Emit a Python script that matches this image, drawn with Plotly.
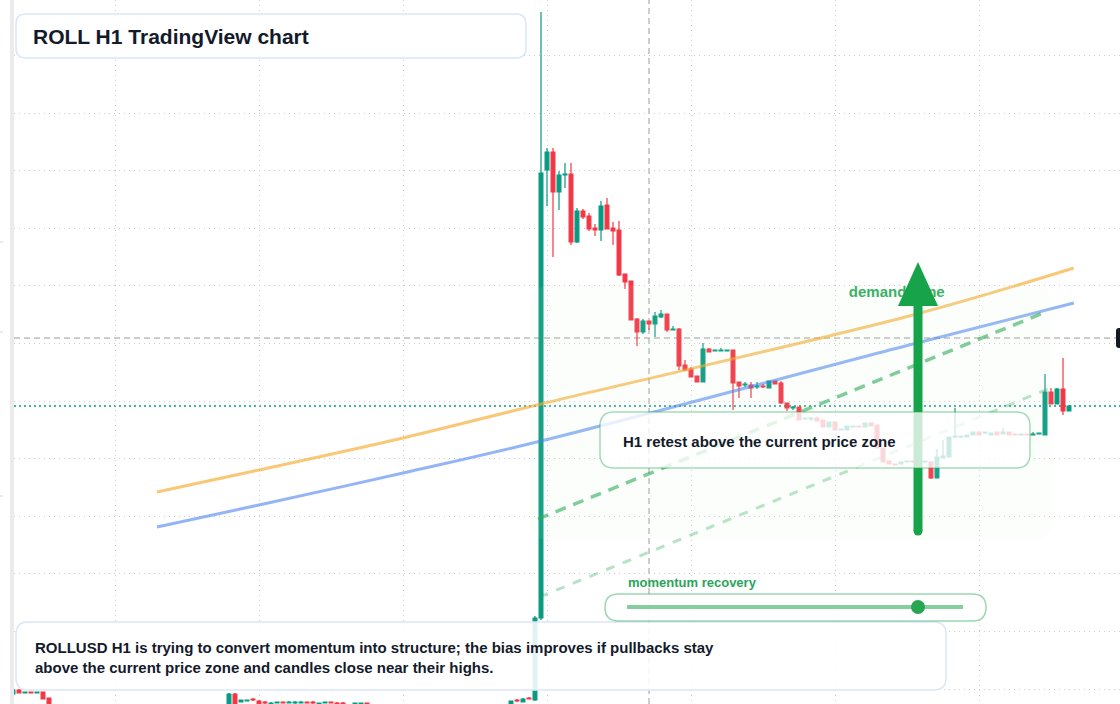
import plotly.graph_objects as go

W, H = 1120, 704

# ---------------- data (hourly candles, index = bar number) ----------------
candle_idx = [0, 1, 2, 3, 4, 5, 6,
              36, 37, 38, 39, 40, 41, 42, 43, 44, 45, 46, 47, 48, 49, 50, 51, 52, 53, 54, 55, 57, 58, 59,
              83, 84, 85, 86, 87, 88,
              89, 90, 91, 92, 93, 94, 95, 96, 97, 98, 99, 100, 101, 102, 103, 104, 105, 106, 107, 108,
              109, 110, 111, 112, 113, 114, 115, 116, 117, 118, 119, 120, 121, 122, 123, 124, 125, 126,
              127, 128, 129, 130, 131, 132, 133, 134, 135, 136, 137, 138, 139, 140, 141, 142, 143, 144,
              145, 146, 147, 148, 149, 150, 151, 152, 153, 154, 155, 156, 157, 158, 159, 160, 161, 162,
              163, 164, 165, 166, 167, 168, 169, 170, 171, 172, 173, 174, 175, 176]

opens = [0.0810, 0.0814, 0.0811, 0.0812, 0.0811, 0.0812, 0.0806,
         0.0780, 0.0810, 0.0802, 0.0803, 0.0805, 0.0803, 0.0802, 0.0800, 0.0801, 0.0802, 0.0801, 0.0801,
         0.0801, 0.0802, 0.0802, 0.0799, 0.0801, 0.0802, 0.0801, 0.0801, 0.0800, 0.0800, 0.0801,
         0.0798, 0.0804, 0.0802, 0.0806, 0.0804, 0.0886,
         0.1334, 0.1352, 0.1312, 0.1329, 0.1330, 0.1262, 0.1293, 0.1288, 0.1276, 0.1274, 0.1299, 0.1276,
         0.1274, 0.1230, 0.1223, 0.1185, 0.1172, 0.1183, 0.1180, 0.1187,
         0.1190, 0.1174, 0.1175, 0.1139, 0.1135, 0.1128, 0.1122, 0.1155, 0.1153, 0.1153, 0.1153, 0.1154,
         0.1122, 0.1119, 0.1119, 0.1117, 0.1118, 0.1116,
         0.1123, 0.1121, 0.1101, 0.1096, 0.1097, 0.1085, 0.1085, 0.1086, 0.1084, 0.1077, 0.1082, 0.1074,
         0.1074, 0.1077, 0.1078, 0.1077, 0.1081, 0.1079,
         0.1056, 0.1043, 0.1040, 0.1040, 0.1042, 0.1043, 0.1042, 0.1042, 0.1042, 0.1026, 0.1046, 0.1047,
         0.1067, 0.1067, 0.1067, 0.1069, 0.1072, 0.1071,
         0.1069, 0.1072, 0.1070, 0.1072, 0.1070, 0.1069, 0.1070, 0.1069, 0.1070, 0.1069, 0.1112, 0.1100,
         0.1115, 0.1093]

highs = [0.0815, 0.0815, 0.0812, 0.0812, 0.0812, 0.0812, 0.0806,
         0.0811, 0.0811, 0.0804, 0.0804, 0.0806, 0.0804, 0.0803, 0.0802, 0.0802, 0.0802, 0.0803, 0.0803,
         0.0803, 0.0802, 0.0803, 0.0801, 0.0802, 0.0802, 0.0802, 0.0802, 0.0801, 0.0801, 0.0801,
         0.0803, 0.0805, 0.0806, 0.0807, 0.0888, 0.1492,
         0.1356, 0.1356, 0.1333, 0.1341, 0.1341, 0.1296, 0.1295, 0.1291, 0.1280, 0.1303, 0.1306, 0.1282,
         0.1283, 0.1230, 0.1223, 0.1186, 0.1185, 0.1183, 0.1192, 0.1194,
         0.1190, 0.1178, 0.1176, 0.1144, 0.1137, 0.1128, 0.1161, 0.1156, 0.1154, 0.1156, 0.1154, 0.1154,
         0.1122, 0.1122, 0.1122, 0.1122, 0.1120, 0.1123,
         0.1123, 0.1123, 0.1101, 0.1098, 0.1097, 0.1086, 0.1087, 0.1087, 0.1084, 0.1082, 0.1082, 0.1075,
         0.1078, 0.1078, 0.1078, 0.1081, 0.1081, 0.1079,
         0.1056, 0.1043, 0.1040, 0.1042, 0.1043, 0.1043, 0.1043, 0.1043, 0.1042, 0.1055, 0.1064, 0.1067,
         0.1096, 0.1068, 0.1069, 0.1072, 0.1072, 0.1072,
         0.1071, 0.1072, 0.1076, 0.1072, 0.1070, 0.1070, 0.1070, 0.1072, 0.1071, 0.1130, 0.1116, 0.1116,
         0.1146, 0.1099]

lows = [0.0809, 0.0811, 0.0811, 0.0811, 0.0811, 0.0805, 0.0790,
        0.0778, 0.0780, 0.0802, 0.0803, 0.0803, 0.0797, 0.0799, 0.0799, 0.0801, 0.0801, 0.0801, 0.0800,
        0.0801, 0.0801, 0.0800, 0.0799, 0.0801, 0.0801, 0.0799, 0.0799, 0.0800, 0.0800, 0.0800,
        0.0797, 0.0802, 0.0802, 0.0805, 0.0803, 0.0884,
        0.1298, 0.1247, 0.1294, 0.1316, 0.1259, 0.1261, 0.1285, 0.1273, 0.1268, 0.1263, 0.1275, 0.1259,
        0.1228, 0.1215, 0.1184, 0.1158, 0.1170, 0.1174, 0.1167, 0.1186,
        0.1172, 0.1174, 0.1134, 0.1133, 0.1127, 0.1122, 0.1122, 0.1152, 0.1153, 0.1153, 0.1153, 0.1094,
        0.1106, 0.1117, 0.1106, 0.1115, 0.1116, 0.1116,
        0.1120, 0.1100, 0.1093, 0.1094, 0.1084, 0.1085, 0.1083, 0.1083, 0.1077, 0.1077, 0.1074, 0.1074,
        0.1074, 0.1077, 0.1077, 0.1077, 0.1078, 0.1056,
        0.1042, 0.1040, 0.1039, 0.1040, 0.1042, 0.1042, 0.1042, 0.1042, 0.1025, 0.1026, 0.1046, 0.1047,
        0.1066, 0.1066, 0.1067, 0.1069, 0.1069, 0.1070,
        0.1069, 0.1069, 0.1070, 0.1069, 0.1069, 0.1069, 0.1069, 0.1069, 0.1070, 0.1069, 0.1100, 0.1100,
        0.1089, 0.1093]

closes = [0.0814, 0.0811, 0.0812, 0.0811, 0.0812, 0.0805, 0.0792,
          0.0810, 0.0785, 0.0804, 0.0804, 0.0804, 0.0798, 0.0801, 0.0801, 0.0802, 0.0801, 0.0802, 0.0802,
          0.0802, 0.0801, 0.0801, 0.0801, 0.0802, 0.0801, 0.0800, 0.0800, 0.0801, 0.0801, 0.0800,
          0.0803, 0.0803, 0.0805, 0.0805, 0.0886, 0.1331,
          0.1352, 0.1312, 0.1329, 0.1330, 0.1262, 0.1293, 0.1287, 0.1275, 0.1274, 0.1298, 0.1275, 0.1273,
          0.1229, 0.1222, 0.1184, 0.1172, 0.1183, 0.1180, 0.1188, 0.1190,
          0.1174, 0.1175, 0.1138, 0.1134, 0.1127, 0.1122, 0.1155, 0.1152, 0.1154, 0.1154, 0.1154, 0.1121,
          0.1118, 0.1120, 0.1116, 0.1118, 0.1117, 0.1123,
          0.1120, 0.1101, 0.1096, 0.1097, 0.1084, 0.1086, 0.1086, 0.1083, 0.1077, 0.1082, 0.1074, 0.1075,
          0.1078, 0.1078, 0.1077, 0.1081, 0.1078, 0.1056,
          0.1042, 0.1040, 0.1039, 0.1042, 0.1043, 0.1042, 0.1043, 0.1043, 0.1026, 0.1047, 0.1048, 0.1067,
          0.1068, 0.1068, 0.1069, 0.1072, 0.1069, 0.1072,
          0.1071, 0.1069, 0.1072, 0.1069, 0.1069, 0.1070, 0.1069, 0.1070, 0.1071, 0.1112, 0.1100, 0.1115,
          0.1093, 0.1098]

# moving-average style overlays
ma_fast_x = [24, 41, 65, 88, 150, 176.8]
ma_fast_y = [0.1012, 0.1034, 0.1066, 0.1100, 0.1189, 0.1236]
ma_slow_x = [24, 41, 65, 88, 150, 176.8]
ma_slow_y = [0.0977, 0.0999, 0.1031, 0.1063, 0.1160, 0.1201]
# trend channel (dashed)
trend_x = [87.5, 172.5]
trend_y = [0.0985, 0.1193]
support_x = [87.75, 172.5]
support_y = [0.0907, 0.1115]

last_price = closes[-1]
cross_price = 0.1166
cross_idx = 106

UP, DOWN = "#089981", "#f23645"
TXT = "#131a2b"
GREEN = "#2aa55a"
FONT = "Liberation Sans, Arial, sans-serif"


def P(x, y):
    return f"{x / W:.5f},{1 - y / H:.5f}"


def rrect(x0, y0, x1, y1, r):
    return (f"M{P(x0 + r, y0)} L{P(x1 - r, y0)} Q{P(x1, y0)} {P(x1, y0 + r)} "
            f"L{P(x1, y1 - r)} Q{P(x1, y1)} {P(x1 - r, y1)} L{P(x0 + r, y1)} "
            f"Q{P(x0, y1)} {P(x0, y1 - r)} L{P(x0, y0 + r)} Q{P(x0, y0)} {P(x0 + r, y0)} Z")


fig = go.Figure()
fig.add_trace(go.Candlestick(
    x=candle_idx, open=opens, high=highs, low=lows, close=closes,
    increasing=dict(line=dict(color=UP, width=1.2), fillcolor=UP),
    decreasing=dict(line=dict(color=DOWN, width=1.2), fillcolor=DOWN),
    whiskerwidth=0, hoverinfo="skip", showlegend=False))

fig.add_trace(go.Scatter(x=ma_fast_x, y=ma_fast_y, mode="lines", line_shape="spline",
                         line=dict(color="rgba(245,166,35,0.62)", width=3), hoverinfo="skip"))
fig.add_trace(go.Scatter(x=ma_slow_x, y=ma_slow_y, mode="lines", line_shape="spline",
                         line=dict(color="rgba(59,120,240,0.55)", width=3), hoverinfo="skip"))
fig.add_trace(go.Scatter(x=trend_x, y=trend_y, mode="lines",
                         line=dict(color="rgba(34,166,80,0.6)", width=3.5, dash="11px,8px"),
                         hoverinfo="skip"))
fig.add_trace(go.Scatter(x=support_x, y=support_y, mode="lines",
                         line=dict(color="rgba(34,166,80,0.32)", width=3, dash="9px,9px"),
                         hoverinfo="skip"))
fig.add_trace(go.Scatter(x=[139.3], y=[0.1211], mode="text", text=["<b>demand zone</b>"],
                         textposition="middle right",
                         textfont=dict(family=FONT, size=15, color="#2fab5f"), hoverinfo="skip"))

shapes = [
    # crosshair + last price line
    dict(type="line", xref="x", yref="paper", x0=cross_idx, x1=cross_idx, y0=0, y1=1, layer="below",
         line=dict(color="#9a9a9a", width=1, dash="6px,4px")),
    dict(type="line", xref="paper", yref="y", x0=14 / W, x1=1116 / W, y0=cross_price, y1=cross_price,
         layer="below", line=dict(color="#9a9a9a", width=1, dash="6px,4px")),
    dict(type="line", xref="paper", yref="y", x0=14 / W, x1=1, y0=last_price, y1=last_price,
         layer="below", line=dict(color=UP, width=1.5, dash="2px,3px")),
    # left strip
    dict(type="rect", xref="paper", yref="paper", x0=10 / W, x1=14 / W, y0=0, y1=1,
         fillcolor="#ebebeb", line=dict(width=0), layer="above"),
    # demand zone
    dict(type="path", xref="paper", yref="paper", path=rrect(530, 286, 1052, 540, 20),
         fillcolor="rgba(200,240,210,0.08)", line=dict(width=0), layer="above"),
    # arrow
    dict(type="line", xref="paper", yref="paper", x0=918 / W, x1=918 / W, y0=1 - 531 / H, y1=1 - 300 / H,
         line=dict(color="#16a34a", width=9), layer="above"),
    dict(type="circle", xref="paper", yref="paper", x0=913.5 / W, x1=922.5 / W, y0=1 - 535.5 / H,
         y1=1 - 526.5 / H, fillcolor="#16a34a", line=dict(width=0), layer="above"),
    dict(type="path", xref="paper", yref="paper",
         path=f"M{P(898, 306)} L{P(938, 306)} L{P(918, 262)} Z",
         fillcolor="#16a34a", line=dict(width=0), layer="above"),
    # middle box
    dict(type="path", xref="paper", yref="paper", path=rrect(600, 412, 1030, 468, 14),
         fillcolor="rgba(255,255,255,0.78)", line=dict(color="rgba(34,166,80,0.4)", width=1.5),
         layer="above"),
    # bottom box
    dict(type="path", xref="paper", yref="paper", path=rrect(16, 622, 946, 690, 12),
         fillcolor="rgba(255,255,255,0.88)", line=dict(color="#dbe6f7", width=1.5), layer="above"),
    # title box
    dict(type="path", xref="paper", yref="paper", path=rrect(16, 14, 526, 58, 10),
         fillcolor="rgba(255,255,255,0.92)", line=dict(color="#dbe6f7", width=1.5), layer="above"),
    # momentum slider
    dict(type="path", xref="paper", yref="paper", path=rrect(605, 594, 986, 621, 13.5),
         fillcolor="rgba(255,255,255,0.9)", line=dict(color="rgba(34,166,80,0.45)", width=1.5),
         layer="above"),
    dict(type="line", xref="paper", yref="paper", x0=627 / W, x1=963 / W, y0=1 - 607 / H, y1=1 - 607 / H,
         line=dict(color="rgba(34,166,80,0.55)", width=4), layer="above"),
    dict(type="circle", xref="paper", yref="paper", x0=911 / W, x1=925 / W, y0=1 - 614 / H, y1=1 - 600 / H,
         fillcolor="#26a650", line=dict(width=0), layer="above"),
    # price label stub on right
    dict(type="path", xref="paper", yref="paper", path=rrect(1116, 328, 1130, 348, 3),
         fillcolor="#131722", line=dict(width=0), layer="above"),
]
for ty in (242, 332, 496):
    shapes.append(dict(type="line", xref="paper", yref="paper", x0=0, x1=3 / W, y0=1 - ty / H,
                       y1=1 - ty / H, line=dict(color="#d6d6d6", width=1), layer="above"))

annotations = [
    dict(x=31 / W, y=1 - 36 / H, xref="paper", yref="paper", xanchor="left", yanchor="middle",
         text="<b>ROLL H1 TradingView chart</b>", showarrow=False,
         font=dict(family=FONT, size=21, color=TXT)),
    dict(x=33 / W, y=1 - 657 / H, xref="paper", yref="paper", xanchor="left", yanchor="middle",
         align="left", showarrow=False,
         text="<b>ROLLUSD H1 is trying to convert momentum into structure; the bias improves if pullbacks stay"
              "<br>above the current price zone and candles close near their highs.</b>",
         font=dict(family=FONT, size=15, color=TXT)),
    dict(x=621 / W, y=1 - 441 / H, xref="paper", yref="paper", xanchor="left", yanchor="middle",
         text="<b>H1 retest above the current price zone</b>", showarrow=False,
         font=dict(family=FONT, size=15, color=TXT)),
    dict(x=626 / W, y=1 - 582 / H, xref="paper", yref="paper", xanchor="left", yanchor="middle",
         text="<b>momentum recovery</b>", showarrow=False,
         font=dict(family=FONT, size=13, color=GREEN)),
]

axis_common = dict(showgrid=True, gridcolor="#cccccc", gridwidth=1, griddash="1px,4px",
                   zeroline=False, showline=False, showticklabels=False, ticks="", tickmode="linear")

fig.update_layout(
    width=W, height=H, margin=dict(l=0, r=0, t=0, b=0),
    paper_bgcolor="white", plot_bgcolor="rgba(0,0,0,0)",
    showlegend=False, boxgap=0.1,
    xaxis=dict(domain=[14 / W, 1], range=[1 / 6, 184.5], tick0=17, dtick=24,
               rangeslider=dict(visible=False), **axis_common),
    yaxis=dict(range=[0.0800, 0.1504], tick0=0.0815, dtick=0.00576, **axis_common),
    shapes=shapes, annotations=annotations,
)

fig.write_html("out.html")
